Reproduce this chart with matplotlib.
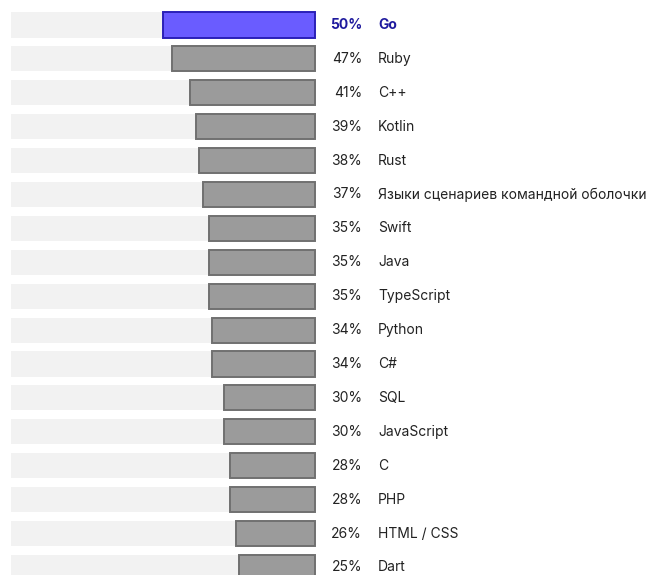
import matplotlib
matplotlib.use("Agg")
import matplotlib.pyplot as plt

languages = ["Go", "Ruby", "C++", "Kotlin", "Rust",
             "Языки сценариев командной оболочки", "Swift", "Java",
             "TypeScript", "Python", "C#", "SQL", "JavaScript", "C",
             "PHP", "HTML / CSS", "Dart"]
shares = [50, 47, 41, 39, 38, 37, 35, 35, 35, 34, 34, 30, 30, 28, 28, 26, 25]

plt.rcParams["font.family"] = ["Inter", "DejaVu Sans"]

fig = plt.figure(figsize=(6.48, 5.75), dpi=100)
ax = fig.add_axes([0, 0, 1, 1])
ax.set_axis_off()

# pixel mapping: x_px = 11 + 3.04 * pct ; row centers at 25 + 33.9 * i
ax.set_xlim(-11 / 3.04, (648 - 11) / 3.04)
ax.set_ylim((575 - 25) / 33.9, -25 / 33.9)

bar_h = 0.74
full = 100
for i, (lang, val) in enumerate(zip(languages, shares)):
    ax.barh(i, full - val, left=0, height=bar_h, color="#f2f2f2", linewidth=0)
    if i == 0:
        fc, ec, tc, fw = "#6a5cff", "#2b20b8", "#1f1a9e", "bold"
    else:
        fc, ec, tc, fw = "#9b9b9b", "#707070", "#222222", "normal"
    ax.barh(i, val, left=full - val, height=bar_h, color=fc, edgecolor=ec,
            linewidth=1.4)
    ax.text(115.5, i, f"{val}%", ha="right", va="center", fontsize=10,
            color=tc, fontweight=fw)
    ax.text(120.7, i, lang, ha="left", va="center", fontsize=10,
            color=tc, fontweight=fw)

fig.savefig("out.png", dpi=100)
